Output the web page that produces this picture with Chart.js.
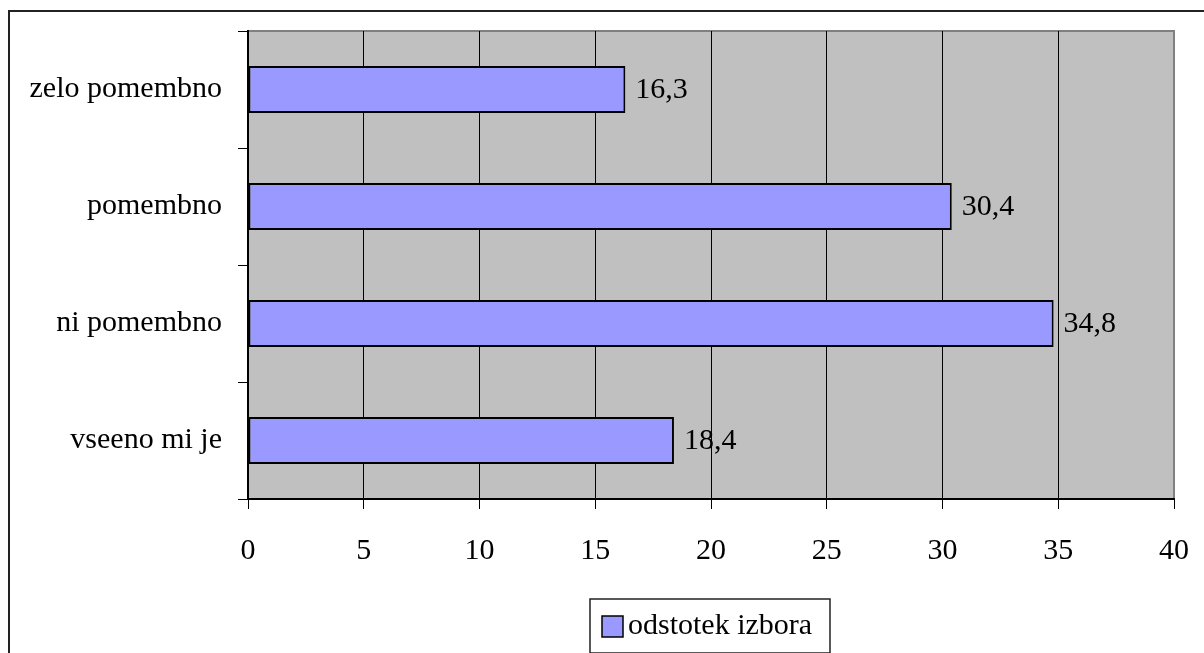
<!DOCTYPE html>
<html>
<head>
<meta charset="utf-8">
<title>odstotek izbora</title>
<script src="https://cdn.jsdelivr.net/npm/chart.js@4.4.0/dist/chart.umd.min.js"></script>
<style>
  html, body { margin: 0; padding: 0; background: #fff; overflow: hidden; }
  .frame {
    position: absolute; left: 8px; top: 10px;
    width: 1300px; height: 800px;
    border: 2px solid #222;
  }
  #chart { position: absolute; left: 0; top: 0; }
</style>
</head>
<body>
<div class="frame"></div>
<canvas id="chart" width="1204" height="653"></canvas>
<script>
const categories = ['zelo pomembno', 'pomembno', 'ni pomembno', 'vseeno mi je'];
const shares = [16.3, 30.4, 34.8, 18.4];
const seriesName = 'odstotek izbora';
const xTicks = [0, 5, 10, 15, 20, 25, 30, 35, 40];

const FONT = "'Liberation Serif', 'Times New Roman', serif";
const FONT_SIZE = 30;
const BAR_FILL = '#9999FF';

// grey plot area with a grey frame on top and right
const plotBackground = {
    id: 'plotBackground',
    beforeDraw(chart) {
        const a = chart.chartArea;
        const ctx = chart.ctx;
        ctx.save();
        ctx.fillStyle = '#C0C0C0';
        ctx.fillRect(a.left, a.top, a.right - a.left, a.bottom - a.top);
        ctx.strokeStyle = '#808080';
        ctx.lineWidth = 2;
        ctx.beginPath();
        ctx.moveTo(a.left, a.top);
        ctx.lineTo(a.right, a.top);
        ctx.lineTo(a.right, a.bottom);
        ctx.stroke();
        ctx.restore();
    }
};

// value labels to the right of each bar, decimal comma
const valueLabels = {
    id: 'valueLabels',
    afterDatasetsDraw(chart) {
        const ctx = chart.ctx;
        const meta = chart.getDatasetMeta(0);
        ctx.save();
        ctx.font = FONT_SIZE + 'px ' + FONT;
        ctx.fillStyle = '#000';
        ctx.textAlign = 'left';
        ctx.textBaseline = 'middle';
        meta.data.forEach((bar, i) => {
            const txt = shares[i].toFixed(1).replace('.', ',');
            ctx.fillText(txt, bar.x + 10, bar.y + 1);
        });
        ctx.restore();
    }
};

// boxed legend under the axis
const boxedLegend = {
    id: 'boxedLegend',
    afterDraw(chart) {
        const ctx = chart.ctx;
        const ds = chart.data.datasets[0];
        ctx.save();
        ctx.font = FONT_SIZE + 'px ' + FONT;
        const sw = 21;
        const x = 590;
        const y = 599;
        const w = 240;
        ctx.fillStyle = '#fff';
        ctx.fillRect(x, y, w, 54);
        ctx.strokeStyle = '#222';
        ctx.lineWidth = 1.5;
        ctx.strokeRect(x, y, w, 54);
        ctx.fillStyle = ds.backgroundColor;
        ctx.fillRect(x + 12, y + 17, sw, sw);
        ctx.strokeStyle = '#000';
        ctx.strokeRect(x + 12, y + 17, sw, sw);
        ctx.fillStyle = '#000';
        ctx.textBaseline = 'middle';
        ctx.fillText(ds.label, x + 12 + sw + 5, y + 27);
        ctx.restore();
    }
};

new Chart(document.getElementById('chart'), {
    type: 'bar',
    data: {
        labels: categories,
        datasets: [{
            label: seriesName,
            data: shares,
            backgroundColor: BAR_FILL,
            borderColor: '#000',
            borderWidth: 2,
            borderSkipped: false,
            barPercentage: 0.4,
            categoryPercentage: 1.0
        }]
    },
    options: {
        indexAxis: 'y',
        responsive: false,
        animation: false,
        devicePixelRatio: 1,
        layout: { padding: { left: 0, top: 31, right: 30, bottom: 0 } },
        plugins: {
            legend: { display: false },
            tooltip: { enabled: false }
        },
        scales: {
            x: {
                min: 0,
                max: 40,
                afterBuildTicks(scale) {
                    scale.ticks = xTicks.map(v => ({ value: v }));
                },
                afterFit(scale) {
                    scale.height = 154;
                    scale.paddingLeft = 0;
                    scale.paddingRight = 0;
                },
                grid: {
                    color: ctx => (ctx.tick && ctx.tick.value === 40) ? '#808080' : '#000',
                    lineWidth: 1,
                    drawTicks: true,
                    tickLength: 10,
                    tickColor: '#000'
                },
                border: { display: true, color: '#000', width: 2 },
                ticks: {
                    color: '#000',
                    font: { family: FONT, size: FONT_SIZE },
                    padding: 24,
                    maxRotation: 0
                }
            },
            y: {
                afterFit(scale) {
                    scale.width = 248;
                    scale.paddingTop = 0;
                    scale.paddingBottom = 0;
                },
                grid: {
                    offset: true,
                    drawOnChartArea: false,
                    drawTicks: true,
                    tickLength: 10,
                    tickColor: '#000'
                },
                border: { display: true, color: '#000', width: 2 },
                ticks: {
                    color: '#000',
                    font: { family: FONT, size: FONT_SIZE },
                    padding: 16
                }
            }
        }
    },
    plugins: [plotBackground, valueLabels, boxedLegend]
});
</script>
</body>
</html>
